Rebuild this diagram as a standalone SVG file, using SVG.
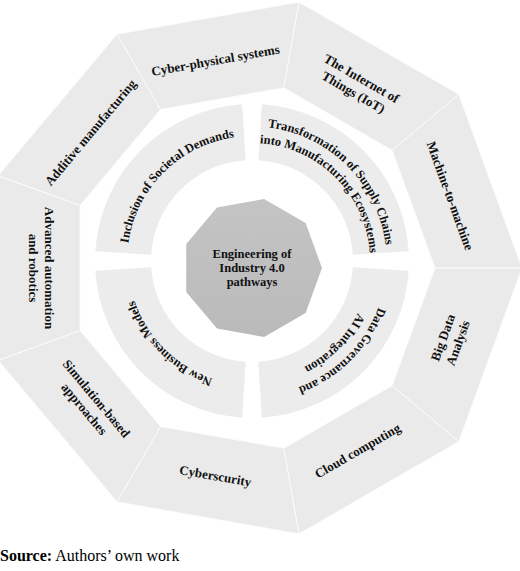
<svg xmlns="http://www.w3.org/2000/svg" xmlns:xlink="http://www.w3.org/1999/xlink" width="520" height="571" viewBox="0 0 520 571">
<style>
.seg{fill:#eaeaea;stroke:#fbfbfb;stroke-width:1}
.inr{fill:#ececec}
.ol{font-family:"Liberation Serif",serif;font-weight:bold;font-size:13px;fill:#111;text-anchor:middle}
.il{font-family:"Liberation Serif",serif;font-weight:bold;font-size:12.5px;fill:#111;text-anchor:middle}
.src{font-family:"Liberation Serif",serif;font-size:16px;fill:#000}
</style>
<defs>
<linearGradient id="cg" x1="0" y1="0" x2="0" y2="1">
<stop offset="0" stop-color="#c4c4c4"/>
<stop offset="1" stop-color="#bababa"/>
</linearGradient>
<path id="pInc" d="M127 261 A125 125 0 0 1 252 136"/>
<path id="pTr1" d="M252 126.5 A134.5 134.5 0 0 1 386.5 261"/>
<path id="pTr2" d="M252 143 A118 118 0 0 1 370 261"/>
<path id="pDg1" d="M386.5 261 A134.5 134.5 0 0 1 252 395.5"/>
<path id="pDg2" d="M370 261 A118 118 0 0 1 252 379"/>
<path id="pNb" d="M252 385 A124 124 0 0 1 128 261"/>
</defs>
<rect width="520" height="571" fill="#fff"/>

<g id="iot">
<polygon class="seg" points="298.89,2.10 458.83,94.45 392.19,150.37 283.78,87.78"/>
<text class="ol" transform="translate(357.5 85.3) rotate(30)"><tspan x="0" y="-3.5">The Internet of</tspan><tspan x="0" y="12.5">Things (IoT)</tspan></text>
</g>
<g id="m2m">
<polygon class="seg" points="458.83,94.45 522,268 435,268 392.19,150.37"/>
<text class="ol" transform="translate(450.3 195.8) rotate(70)" y="4.5">Machine-to-machine</text>
</g>
<g id="bigdata">
<polygon class="seg" points="522,268 458.83,441.55 392.19,385.63 435,268"/>
<text class="ol" transform="translate(450.3 340.2) rotate(-70)"><tspan x="0" y="-3.5">Big Data</tspan><tspan x="0" y="12.5">Analysis</tspan></text>
</g>
<g id="cloud">
<polygon class="seg" points="458.83,441.55 298.89,533.90 283.78,448.22 392.19,385.63"/>
<text class="ol" transform="translate(357.5 450.7) rotate(-30)" y="4.5">Cloud computing</text>
</g>
<g id="cybersecurity">
<polygon class="seg" points="298.89,533.90 117,501.83 160.5,426.48 283.78,448.22"/>
<text class="ol" transform="translate(215.4 475.8) rotate(10)" y="4.5">Cyberscurity</text>
</g>
<g id="simulation">
<polygon class="seg" points="117,501.83 -1.72,360.35 80.04,330.59 160.5,426.48"/>
<text class="ol" transform="translate(90.4 403.6) rotate(50)"><tspan x="0" y="-3.5">Simulation-based</tspan><tspan x="0" y="12.5">approaches</tspan></text>
</g>
<g id="automation">
<polygon class="seg" points="-1.72,360.35 -1.72,175.65 80.04,205.41 80.04,330.59"/>
<text class="ol" transform="translate(41 268) rotate(90)"><tspan x="0" y="-3.5">Advanced automation</tspan><tspan x="0" y="12.5">and robotics</tspan></text>
</g>
<g id="additive">
<polygon class="seg" points="-1.72,175.65 117,34.17 160.5,109.52 80.04,205.41"/>
<text class="ol" transform="translate(90.4 132.4) rotate(-50)" y="4.5">Additive manufacturing</text>
</g>
<g id="cps">
<polygon class="seg" points="117,34.17 298.89,2.10 283.78,87.78 160.5,109.52"/>
<text class="ol" transform="translate(215.4 60.2) rotate(-10)" y="4.5">Cyber-physical systems</text>
</g>

<g id="societal">
<path class="inr" d="M95.31 251.14 A157 157 0 0 1 242.14 104.31 L245.66 160.20 A101 101 0 0 0 151.20 254.66 Z"/>
<text class="il"><textPath xlink:href="#pInc" href="#pInc" startOffset="50%">Inclusion of Societal Demands</textPath></text>
</g>
<g id="supplychains">
<path class="inr" d="M261.86 104.31 A157 157 0 0 1 408.69 251.14 L352.80 254.66 A101 101 0 0 0 258.34 160.20 Z"/>
<text class="il"><textPath xlink:href="#pTr1" href="#pTr1" startOffset="50%">Transformation of Supply Chains</textPath></text>
<text class="il"><textPath xlink:href="#pTr2" href="#pTr2" startOffset="50%">into Manufacturing Ecosystems</textPath></text>
</g>
<g id="datagov">
<path class="inr" d="M408.69 270.86 A157 157 0 0 1 261.86 417.69 L258.34 361.80 A101 101 0 0 0 352.80 267.34 Z"/>
<text class="il"><textPath xlink:href="#pDg1" href="#pDg1" startOffset="50%">Data Governance and</textPath></text>
<text class="il"><textPath xlink:href="#pDg2" href="#pDg2" startOffset="50%">AI Integration</textPath></text>
</g>
<g id="business">
<path class="inr" d="M242.14 417.69 A157 157 0 0 1 95.31 270.86 L151.20 267.34 A101 101 0 0 0 245.66 361.80 Z"/>
<text class="il"><textPath xlink:href="#pNb" href="#pNb" startOffset="50%">New Business Models</textPath></text>
</g>

<g id="center">
<polygon fill="url(#cg)" points="264.16,199.06 305.62,223.01 322,268 305.62,312.99 264.16,336.94 217,328.62 186.22,291.94 186.22,244.06 217,207.38"/>
<text class="il" x="252" y="258">Engineering of</text>
<text class="il" x="252" y="272">Industry 4.0</text>
<text class="il" x="252" y="286">pathways</text>
</g>

<g id="connectors"></g>

<text class="src" x="0" y="561"><tspan font-weight="bold">Source:</tspan> Authors’ own work</text>
</svg>
